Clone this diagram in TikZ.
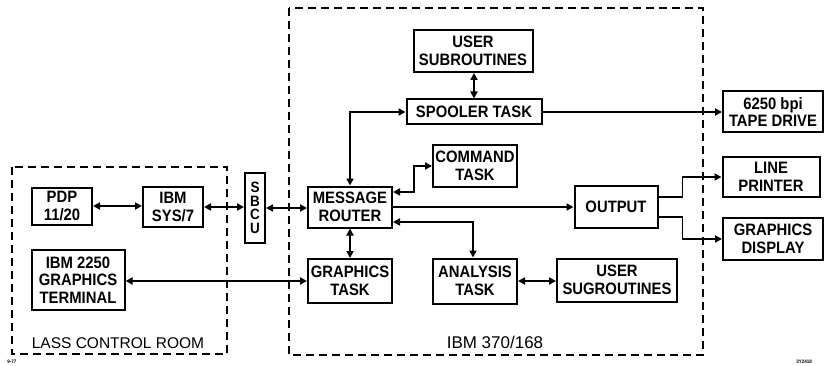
\documentclass[tikz,border=0pt]{standalone}
\usepackage{fontspec}
\setmainfont{Liberation Sans}[FakeStretch=0.9]
\newfontfamily\lblfont{Liberation Sans}
\usetikzlibrary{arrows.meta,calc}
\begin{document}
\begin{tikzpicture}[x=1pt,y=-1pt,
  blk/.style={draw,line width=2pt,rectangle,inner sep=0pt,align=center,
    font=\fontsize{16.5}{17.5}\selectfont\bfseries},
  grp/.style={draw,line width=1.5pt,dash pattern=on 8pt off 5pt},
  con/.style={line width=1.8pt},
  ar/.style={con,-{Triangle[length=7pt,width=7pt]}},
  dar/.style={con,{Triangle[length=7pt,width=7pt]}-{Triangle[length=7pt,width=7pt]}},
  lbl/.style={font=\lblfont\fontsize{15.5}{16}\selectfont},
  tiny/.style={font=\fontsize{5}{6}\selectfont\bfseries}]
\useasboundingbox (0,0) rectangle (826,366);
% group boxes
\draw[grp] (12,167) rectangle (227,354);
\draw[grp] (289,8) rectangle (703,355);
\node[lbl] (lcr) at (118,343) {LASS CONTROL ROOM};
\node[lbl,font=\lblfont\fontsize{17}{17}\selectfont] (ibm) at (495,342) {IBM 370/168};
\node[tiny] (n977) at (12,362) {9-77};
\node[tiny] (nfig) at (804,362) {3Y2418};
% blocks
\node[blk,minimum width=60,minimum height=37] (pdp) at (62,206) {PDP\\11/20};
\node[blk,minimum width=60,minimum height=40] (sys) at (173,207) {IBM\\SYS/7};
\node[blk,minimum width=20,minimum height=70,font=\fontsize{15}{13.5}\selectfont\bfseries] (sbcu) at (255,208) {S\\B\\C\\U};
\node[blk,minimum width=93,minimum height=60] (term) at (78,280) {IBM 2250\\GRAPHICS\\TERMINAL};
\node[blk,minimum width=84,minimum height=41] (mr) at (350,207) {MESSAGE\\ROUTER};
\node[blk,minimum width=84,minimum height=44] (gt) at (350,281) {GRAPHICS\\TASK};
\node[blk,minimum width=84,minimum height=45] (an) at (475,281) {ANALYSIS\\TASK};
\node[blk,minimum width=84,minimum height=42] (ct) at (475,166) {COMMAND\\TASK};
\node[blk,minimum width=119,minimum height=42] (us1) at (473,51) {USER\\SUBROUTINES};
\node[blk,minimum width=135,minimum height=25] (sp) at (474,112) {SPOOLER TASK};
\node[blk,minimum width=83,minimum height=42] (out) at (616,207) {OUTPUT};
\node[blk,minimum width=120,minimum height=43] (us2) at (617,280) {USER\\SUGROUTINES};
\node[blk,minimum width=100,minimum height=41] (td) at (773,112) {6250 bpi\\TAPE DRIVE};
\node[blk,minimum width=97,minimum height=40] (lp) at (771,177) {LINE\\PRINTER};
\node[blk,minimum width=100,minimum height=42] (gd) at (773,239) {GRAPHICS\\DISPLAY};
% connectors
\draw[dar] (pdp.east) -- (pdp.east -| sys.west);
\draw[dar] (sys.east) -- (sys.east -| sbcu.west);
\draw[dar] (sbcu.east) -- (sbcu.east -| mr.west);
\draw[dar] (gt.west) -- (gt.west -| term.east);
\draw[dar] (mr.south) -- (gt.north);
\draw[dar] (mr.north) |- (sp.west);
\draw[dar] (us1.south -| sp.north) -- (sp.north);
\draw[ar] (sp.east) -- (sp.east -| td.west);
\draw[dar] ([yshift=15pt]mr.east) -- ++(21,0) |- (ct.west);
\draw[ar] (mr.east) -- (mr.east -| out.west);
\draw[dar] ([yshift=-15pt]mr.east) -| ([xshift=-2pt]an.north);
\draw[dar] (an.east) -- (an.east -| us2.west);
\draw[ar] ([yshift=10pt]out.east) -- ++(24,0) |- (lp.west);
\draw[ar] ([yshift=-10pt]out.east) -- ++(24,0) |- (gd.west);
\end{tikzpicture}
\end{document}
